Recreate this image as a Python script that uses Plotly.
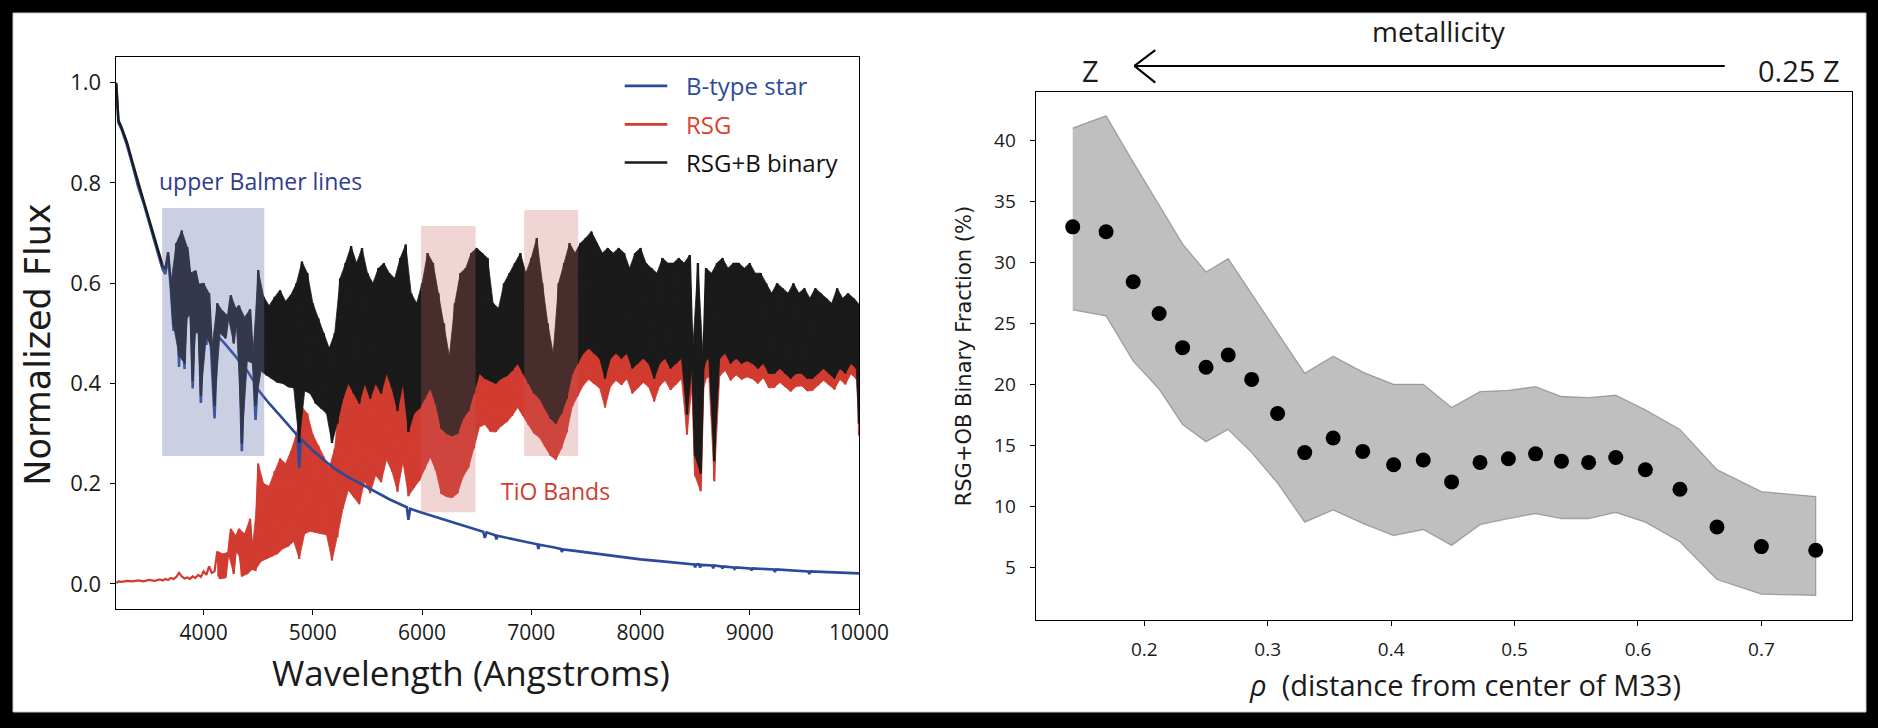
import plotly.graph_objects as go

# ---------------- Left panel: spectra ----------------
wl_spec = [3200, 3210, 3220, 3250, 3300, 3350, 3400, 3450, 3500, 3550, 3600, 3625,
           3650, 3675,
           3700, 3725, 3750, 3775, 3800, 3825, 3850, 3875, 3900, 3925, 3950, 3975,
           4000, 4025, 4050, 4075, 4100, 4125, 4150, 4175, 4200, 4225, 4250, 4275,
           4300, 4325, 4350, 4375, 4400, 4425, 4450, 4475, 4500, 4525, 4550, 4575,
           4600, 4625, 4650, 4675, 4700, 4725, 4750, 4775, 4800, 4825, 4850, 4875,
           4900, 4925, 4950, 4975, 5000, 5025, 5050, 5075, 5100, 5125, 5150, 5175,
           5200, 5225, 5250, 5275, 5300, 5325, 5350, 5375, 5400, 5425, 5450, 5475,
           5500, 5525, 5550, 5575, 5600, 5625, 5650, 5675, 5700, 5725, 5750, 5775,
           5800, 5825, 5850, 5875, 5900, 5925, 5950, 5975, 6000, 6025, 6050, 6075,
           6100, 6125, 6150, 6175, 6200, 6225, 6250, 6275, 6300, 6325, 6350, 6375,
           6400, 6425, 6450, 6475, 6500, 6525, 6550, 6575, 6600, 6625, 6650, 6675,
           6700, 6725, 6750, 6775, 6800, 6825, 6850, 6875, 6900, 6925, 6950, 6975,
           7000, 7025, 7050, 7075, 7100, 7125, 7150, 7175, 7200, 7225, 7250, 7275,
           7300, 7325, 7350, 7375, 7400, 7425, 7450, 7475, 7500, 7525, 7550, 7575,
           7600, 7625, 7650, 7675, 7700, 7725, 7750, 7775, 7800, 7825, 7850, 7875,
           7900, 7925, 7950, 7975, 8000, 8025, 8050, 8075, 8100, 8125, 8150, 8175,
           8200, 8225, 8250, 8275, 8300, 8325, 8350, 8375, 8400, 8425, 8450, 8475,
           8500, 8525, 8550, 8575, 8600, 8625, 8650, 8675, 8700, 8725, 8750, 8775,
           8800, 8825, 8850, 8875, 8900, 8925, 8950, 8975, 9000, 9025, 9050, 9075,
           9100, 9125, 9150, 9175, 9200, 9225, 9250, 9275, 9300, 9325, 9350, 9375,
           9400, 9425, 9450, 9475, 9500, 9525, 9550, 9575, 9600, 9625, 9650, 9675,
           9700, 9725, 9750, 9775, 9800, 9825, 9850, 9875, 9900, 9925, 9950, 9975,
           9990, 10000]

flux_binary = [1.000, 0.965, 0.925, 0.910, 0.880, 0.840, 0.800, 0.765, 0.728, 0.690, 0.655, 0.635,
               0.628, 0.662,
               0.600, 0.515, 0.680, 0.455, 0.705, 0.440, 0.672, 0.620, 0.405, 0.625, 0.598, 0.375,
               0.600, 0.495, 0.580, 0.470, 0.355, 0.560, 0.500, 0.544, 0.490, 0.535, 0.576, 0.480,
               0.547, 0.555, 0.280, 0.532, 0.445, 0.548, 0.440, 0.355, 0.626, 0.425, 0.573, 0.416,
               0.555, 0.409, 0.573, 0.402, 0.586, 0.400, 0.564, 0.393, 0.577, 0.391, 0.600, 0.282,
               0.643, 0.385, 0.620, 0.380, 0.560, 0.360, 0.530, 0.350, 0.500, 0.340, 0.470, 0.281,
               0.500, 0.320, 0.610, 0.370, 0.640, 0.400, 0.674, 0.380, 0.640, 0.360, 0.670, 0.400,
               0.620, 0.370, 0.600, 0.400, 0.630, 0.380, 0.640, 0.420, 0.620, 0.390, 0.610, 0.345,
               0.650, 0.400, 0.677, 0.303, 0.580, 0.340, 0.560, 0.350, 0.600, 0.370, 0.660, 0.390,
               0.640, 0.360, 0.580, 0.310, 0.520, 0.300, 0.454, 0.295, 0.560, 0.300, 0.620, 0.330,
               0.630, 0.345, 0.660, 0.380, 0.670, 0.420, 0.660, 0.410, 0.650, 0.405, 0.560, 0.400,
               0.550, 0.410, 0.600, 0.415, 0.620, 0.425, 0.640, 0.440, 0.660, 0.420, 0.620, 0.400,
               0.650, 0.380, 0.690, 0.370, 0.600, 0.350, 0.520, 0.330, 0.460, 0.320, 0.600, 0.340,
               0.640, 0.370, 0.680, 0.420, 0.660, 0.440, 0.680, 0.460, 0.690, 0.470, 0.703, 0.460,
               0.680, 0.450, 0.660, 0.410, 0.670, 0.450, 0.660, 0.460, 0.670, 0.450, 0.660, 0.460,
               0.630, 0.430, 0.660, 0.440, 0.670, 0.450, 0.640, 0.440, 0.630, 0.410, 0.620, 0.440,
               0.650, 0.450, 0.640, 0.430, 0.640, 0.440, 0.650, 0.450, 0.640, 0.338, 0.656, 0.440,
               0.255, 0.640, 0.220, 0.440, 0.630, 0.450, 0.620, 0.245, 0.640, 0.450, 0.650, 0.460,
               0.630, 0.440, 0.640, 0.450, 0.640, 0.440, 0.630, 0.445, 0.640, 0.440, 0.620, 0.430,
               0.620, 0.440, 0.600, 0.420, 0.580, 0.420, 0.600, 0.430, 0.590, 0.420, 0.580, 0.410,
               0.600, 0.420, 0.580, 0.420, 0.590, 0.410, 0.570, 0.410, 0.590, 0.420, 0.580, 0.430,
               0.570, 0.420, 0.560, 0.410, 0.590, 0.430, 0.570, 0.420, 0.580, 0.440, 0.570, 0.430,
               0.560, 0.320]

flux_rsg = [0.004, 0.003, 0.005, 0.004, 0.006, 0.005, 0.007, 0.005, 0.008, 0.006, 0.009, 0.007,
            0.010, 0.008,
            0.012, 0.010, 0.014, 0.022, 0.015, 0.011, 0.013, 0.010, 0.015, 0.012, 0.018, 0.014,
            0.025, 0.018, 0.035, 0.022, 0.025, 0.065, 0.010, 0.060, 0.012, 0.063, 0.110, 0.020,
            0.095, 0.110, 0.015, 0.100, 0.020, 0.130, 0.030, 0.028, 0.240, 0.045, 0.200, 0.050,
            0.195, 0.055, 0.225, 0.060, 0.250, 0.070, 0.240, 0.075, 0.265, 0.085, 0.300, 0.050,
            0.353, 0.100, 0.340, 0.105, 0.298, 0.102, 0.276, 0.100, 0.254, 0.098, 0.232, 0.047,
            0.270, 0.093, 0.387, 0.150, 0.424, 0.187, 0.464, 0.173, 0.436, 0.159, 0.472, 0.205,
            0.428, 0.181, 0.414, 0.217, 0.450, 0.203, 0.466, 0.248, 0.451, 0.224, 0.446, 0.184,
            0.491, 0.243, 0.523, 0.175, 0.430, 0.192, 0.414, 0.206, 0.458, 0.230, 0.522, 0.253,
            0.505, 0.227, 0.448, 0.180, 0.392, 0.174, 0.329, 0.172, 0.439, 0.181, 0.502, 0.214,
            0.516, 0.232, 0.549, 0.270, 0.562, 0.313, 0.555, 0.318, 0.548, 0.304, 0.462, 0.303,
            0.454, 0.315, 0.507, 0.323, 0.529, 0.335, 0.551, 0.352, 0.574, 0.335, 0.536, 0.317,
            0.569, 0.300, 0.611, 0.292, 0.523, 0.274, 0.445, 0.256, 0.387, 0.248, 0.529, 0.270,
            0.571, 0.302, 0.613, 0.354, 0.594, 0.375, 0.615, 0.396, 0.627, 0.408, 0.641, 0.399,
            0.620, 0.391, 0.601, 0.352, 0.613, 0.394, 0.605, 0.406, 0.616, 0.397, 0.608, 0.409,
            0.579, 0.380, 0.610, 0.391, 0.621, 0.402, 0.592, 0.393, 0.583, 0.364, 0.575, 0.395,
            0.605, 0.406, 0.597, 0.387, 0.598, 0.398, 0.608, 0.409, 0.599, 0.298, 0.616, 0.401,
            0.215, 0.602, 0.185, 0.403, 0.593, 0.414, 0.584, 0.205, 0.605, 0.415, 0.616, 0.426,
            0.596, 0.406, 0.607, 0.417, 0.608, 0.408, 0.598, 0.413, 0.609, 0.409, 0.590, 0.400,
            0.590, 0.411, 0.571, 0.391, 0.551, 0.392, 0.572, 0.402, 0.563, 0.393, 0.553, 0.384,
            0.573, 0.394, 0.554, 0.395, 0.565, 0.385, 0.545, 0.386, 0.565, 0.396, 0.556, 0.406,
            0.547, 0.397, 0.537, 0.388, 0.568, 0.408, 0.548, 0.398, 0.559, 0.419, 0.549, 0.409,
            0.539, 0.296]

wl_bstar = [3200, 3210, 3220, 3250, 3300, 3350, 3400, 3450, 3500, 3550, 3600, 3625,
            3650, 3675, 3700, 3725, 3750, 3775, 3800, 3825, 3850, 3875, 3900, 3925,
            3950, 3975, 4000, 4025, 4050, 4075, 4100, 4125, 4150, 4200, 4250, 4300,
            4330, 4350, 4370, 4400, 4460, 4475, 4490, 4550, 4600, 4700, 4800, 4860,
            4875, 4890, 4950, 5000, 5100, 5200, 5300, 5400, 5500, 5600, 5700, 5800,
            5860, 5875, 5890, 6000, 6100, 6200, 6300, 6400, 6500, 6560, 6575, 6590,
            6670, 6680, 6690, 6800, 6900, 7000, 7055, 7065, 7075, 7200, 7270, 7280,
            7290, 7400, 7600, 7800, 8000, 8200, 8400, 8490, 8500, 8510, 8535, 8545,
            8555, 8655, 8665, 8675, 8740, 8750, 8760, 8850, 8860, 8870, 9005, 9015,
            9025, 9220, 9230, 9240, 9535, 9545, 9555, 9800, 10000]

flux_bstar = [0.996, 0.962, 0.920, 0.906, 0.874, 0.835, 0.793, 0.760, 0.720, 0.684, 0.646, 0.628,
              0.618, 0.654, 0.588, 0.505, 0.666, 0.433, 0.690, 0.429, 0.659, 0.610, 0.390, 0.613,
              0.580, 0.361, 0.575, 0.477, 0.545, 0.448, 0.330, 0.495, 0.490, 0.478, 0.466, 0.452,
              0.443, 0.265, 0.433, 0.425, 0.404, 0.327, 0.390, 0.373, 0.360, 0.336, 0.312, 0.296,
              0.232, 0.289, 0.277, 0.266, 0.247, 0.230, 0.216, 0.204, 0.192, 0.180, 0.169, 0.159,
              0.153, 0.128, 0.150, 0.142, 0.135, 0.128, 0.121, 0.114, 0.108, 0.104, 0.092, 0.103,
              0.097, 0.089, 0.096, 0.091, 0.086, 0.081, 0.079, 0.070, 0.078, 0.073, 0.070, 0.064,
              0.069, 0.066, 0.060, 0.054, 0.049, 0.045, 0.041, 0.039, 0.033, 0.039, 0.039, 0.033,
              0.038, 0.037, 0.031, 0.037, 0.035, 0.031, 0.035, 0.033, 0.030, 0.033, 0.031, 0.027,
              0.031, 0.029, 0.024, 0.029, 0.025, 0.020, 0.025, 0.023, 0.021]

balmer_box_wl = [3620, 4555]
balmer_box_flux = [0.255, 0.750]
tio_box1_wl = [5990, 6490]
tio_box1_flux = [0.143, 0.714]
tio_box2_wl = [6935, 7429]
tio_box2_flux = [0.255, 0.746]

flux_ticks = [0.0, 0.2, 0.4, 0.6, 0.8, 1.0]
wl_ticks = [4000, 5000, 6000, 7000, 8000, 9000, 10000]
wl_ticklabels = ["4000", "5000", "6000", "7000", "8000", "9000", "10000"]

legend_names = ["B-type star", "RSG", "RSG+B binary"]

# ---------------- Right panel: binary fraction ----------------
rho = [0.142, 0.169, 0.191, 0.212, 0.231, 0.250, 0.268, 0.287, 0.308, 0.330, 0.353, 0.377, 0.402,
       0.426, 0.449, 0.472, 0.495, 0.517, 0.538, 0.560, 0.582, 0.606, 0.634, 0.664, 0.700, 0.744]
binary_frac = [32.9, 32.5, 28.4, 25.8, 23.0, 21.4, 22.4, 20.4, 17.6, 14.4, 15.6, 14.5, 13.4,
               13.8, 12.0, 13.6, 13.9, 14.3, 13.7, 13.6, 14.0, 13.0, 11.4, 8.3, 6.7, 6.4]
frac_upper = [41.0, 42.0, 38.2, 34.7, 31.5, 29.2, 30.3, 27.4, 24.2, 20.9, 22.3, 21.0, 20.0,
              20.0, 18.1, 19.4, 19.5, 19.8, 19.0, 18.9, 19.1, 17.9, 16.3, 13.0, 11.2, 10.8]
frac_lower = [26.1, 25.6, 21.9, 19.6, 16.7, 15.3, 16.3, 14.4, 11.9, 8.7, 9.7, 8.6, 7.6,
              8.1, 6.8, 8.5, 9.0, 9.4, 9.0, 9.0, 9.5, 8.7, 7.1, 4.0, 2.8, 2.7]
rho_ticks = [0.2, 0.3, 0.4, 0.5, 0.6, 0.7]
frac_ticks = [5, 10, 15, 20, 25, 30, 35, 40]

assert len(wl_spec) == len(flux_binary) == len(flux_rsg)
assert len(wl_bstar) == len(flux_bstar)

BLUE = "#2c4a9a"
RED = "#d13b30"
BLACK = "#1a1a1a"
TXT_BLUE = "#2e3d8c"
SANS = "Open Sans"
W, H = 1878, 728


def dense_band(wl, flux, start_wl):
    """Polygon joining the local peaks (top) and troughs (bottom) of a noisy
    spectrum, so the dense noise renders as a solid band like the original."""
    idx = [i for i, w in enumerate(wl) if w >= start_wl]
    top, bot = [], []
    for i in idx:
        a = flux[i - 1]
        b = flux[i + 1] if i + 1 < len(flux) else flux[i]
        mid = 0.5 * (a + b)
        top.append(max(flux[i], mid))
        bot.append(min(flux[i], mid))
    xs = [wl[i] for i in idx]
    return xs + xs[::-1], top + bot[::-1]


fig = go.Figure()

rx, ry = dense_band(wl_spec, flux_rsg, 4125)
fig.add_trace(go.Scatter(x=rx, y=ry, mode="lines", fill="toself", fillcolor=RED,
                         line=dict(color=RED, width=0.8), showlegend=False, hoverinfo="skip",
                         xaxis="x", yaxis="y"))
fig.add_trace(go.Scatter(x=wl_spec, y=flux_rsg, mode="lines", line=dict(color=RED, width=2.2),
                         name=legend_names[1], showlegend=False, xaxis="x", yaxis="y"))
fig.add_trace(go.Scatter(x=wl_bstar, y=flux_bstar, mode="lines", line=dict(color=BLUE, width=2.6),
                         name=legend_names[0], showlegend=False, xaxis="x", yaxis="y"))
bx, by = dense_band(wl_spec, flux_binary, 3700)
fig.add_trace(go.Scatter(x=bx, y=by, mode="lines", fill="toself", fillcolor=BLACK,
                         line=dict(color=BLACK, width=0.8), showlegend=False, hoverinfo="skip",
                         xaxis="x", yaxis="y"))
fig.add_trace(go.Scatter(x=wl_spec, y=flux_binary, mode="lines", line=dict(color=BLACK, width=2.4),
                         name=legend_names[2], showlegend=False, xaxis="x", yaxis="y"))

fig.add_trace(go.Scatter(x=rho + rho[::-1], y=frac_upper + frac_lower[::-1], mode="lines",
                         fill="toself", fillcolor="rgba(128,128,128,0.5)",
                         line=dict(color="rgba(110,110,110,0.55)", width=1.3),
                         showlegend=False, hoverinfo="skip", xaxis="x2", yaxis="y2"))
fig.add_trace(go.Scatter(x=rho, y=binary_frac, mode="markers",
                         marker=dict(color="black", size=15), showlegend=False,
                         xaxis="x2", yaxis="y2"))

axis_common = dict(showline=True, linecolor="black", linewidth=1.3, mirror=True,
                   ticks="outside", ticklen=5, tickwidth=1.3, tickcolor="black",
                   showgrid=False, zeroline=False, automargin=False)

fig.update_layout(
    width=W, height=H, autosize=False,
    margin=dict(l=0, r=0, t=0, b=0, pad=0, autoexpand=False),
    paper_bgcolor="black", plot_bgcolor="white",
    showlegend=False,
    xaxis=dict(domain=[115.7 / W, 859.0 / W], range=[3195, 10000], tickvals=wl_ticks,
               ticktext=wl_ticklabels,
               tickfont=dict(family=SANS, size=21, color="#1a1a1a"), ticklabelstandoff=0,
               anchor="y", **axis_common),
    yaxis=dict(domain=[1 - 609.0 / H, 1 - 56.6 / H], range=[-0.05, 1.052], tickvals=flux_ticks,
               tickformat=".1f", tickfont=dict(family=SANS, size=22, color="#1a1a1a"),
               ticklabelstandoff=4, anchor="x", **axis_common),
    xaxis2=dict(domain=[1035.7 / W, 1851.5 / W], range=[0.112, 0.773], tickvals=rho_ticks,
                tickformat=".1f", tickfont=dict(family=SANS, size=19, color="#1a1a1a"),
                ticklabelstandoff=7, anchor="y2", **axis_common),
    yaxis2=dict(domain=[1 - 619.8 / H, 1 - 91.9 / H], range=[0.7, 43.96], tickvals=frac_ticks,
                tickfont=dict(family=SANS, size=19, color="#1a1a1a"), ticklabelstandoff=10,
                anchor="x2", **axis_common),
)

legend_colors = [BLUE, RED, BLACK]
legend_text_colors = ["#2e4a9c", "#d9442f", "#111111"]
legend_rows_y = [85.9, 124.4, 162.5]

shapes = [
    dict(type="rect", xref="paper", yref="paper", x0=13 / W, x1=1866 / W, y0=1 - 712 / H,
         y1=1 - 13 / H, fillcolor="white", line=dict(color="#c8c8c8", width=1), layer="below"),
    dict(type="rect", xref="x", yref="y", x0=balmer_box_wl[0], x1=balmer_box_wl[1],
         y0=balmer_box_flux[0], y1=balmer_box_flux[1], fillcolor="rgba(100,115,172,0.34)",
         line=dict(width=0), layer="above"),
    dict(type="rect", xref="x", yref="y", x0=tio_box1_wl[0], x1=tio_box1_wl[1],
         y0=tio_box1_flux[0], y1=tio_box1_flux[1], fillcolor="rgba(203,95,95,0.27)",
         line=dict(width=0), layer="above"),
    dict(type="rect", xref="x", yref="y", x0=tio_box2_wl[0], x1=tio_box2_wl[1],
         y0=tio_box2_flux[0], y1=tio_box2_flux[1], fillcolor="rgba(203,95,95,0.27)",
         line=dict(width=0), layer="above"),
    # metallicity arrow
    dict(type="line", xref="paper", yref="paper", x0=1724.7 / W, x1=1134.4 / W,
         y0=1 - 65.9 / H, y1=1 - 65.9 / H, line=dict(color="black", width=2)),
    dict(type="line", xref="paper", yref="paper", x0=1134.4 / W, x1=1155.3 / W,
         y0=1 - 65.9 / H, y1=1 - 50.1 / H, line=dict(color="black", width=2)),
    dict(type="line", xref="paper", yref="paper", x0=1134.4 / W, x1=1155.3 / W,
         y0=1 - 65.9 / H, y1=1 - 82.6 / H, line=dict(color="black", width=2)),
]
for col, yy in zip(legend_colors, legend_rows_y):
    shapes.append(dict(type="line", xref="paper", yref="paper", x0=624.7 / W, x1=667.3 / W,
                       y0=1 - yy / H, y1=1 - yy / H, line=dict(color=col, width=2.6)))
fig.update_layout(shapes=shapes)

ann = [
    dict(text="upper Balmer lines", x=3572, y=0.803, xref="x", yref="y", xanchor="left",
         yanchor="middle", showarrow=False, font=dict(family=SANS, size=23, color=TXT_BLUE)),
    dict(text="TiO Bands", x=6704, y=0.185, xref="x", yref="y", xanchor="left",
         yanchor="middle", showarrow=False, font=dict(family=SANS, size=23, color=RED)),
    dict(text="Wavelength (Angstroms)", x=470.6 / W, y=1 - 672 / H, xref="paper", yref="paper",
         xanchor="center", yanchor="middle", showarrow=False,
         font=dict(family=SANS, size=35, color="#1a1a1a")),
    dict(text="Normalized Flux", x=38 / W, y=1 - 344.7 / H, xref="paper", yref="paper",
         xanchor="center", yanchor="middle", showarrow=False, textangle=-90,
         font=dict(family="DejaVu Sans", size=35, color="#1a1a1a")),
    dict(text="<i>ρ</i>&nbsp;&nbsp;(distance from center of M33)", x=1465 / W, y=1 - 684 / H,
         xref="paper", yref="paper", xanchor="center", yanchor="middle", showarrow=False,
         font=dict(family=SANS, size=29, color="#1a1a1a")),
    dict(text="RSG+OB Binary Fraction (%)", x=964 / W, y=1 - 356.3 / H, xref="paper",
         yref="paper", xanchor="center", yanchor="middle", showarrow=False, textangle=-90,
         font=dict(family="DejaVu Sans", size=21, color="#1a1a1a")),
    dict(text="metallicity", x=1439 / W, y=1 - 31 / H, xref="paper", yref="paper",
         xanchor="center", yanchor="middle", showarrow=False,
         font=dict(family=SANS, size=28, color="#1a1a1a")),
    dict(text="Z", x=1090.7 / W, y=1 - 70.6 / H, xref="paper", yref="paper",
         xanchor="center", yanchor="middle", showarrow=False,
         font=dict(family=SANS, size=29, color="#1a1a1a")),
    dict(text="0.25 Z", x=1842 / W, y=1 - 70.6 / H, xref="paper", yref="paper",
         xanchor="right", yanchor="middle", showarrow=False,
         font=dict(family=SANS, size=29, color="#1a1a1a")),
]
for name, tcol, yy in zip(legend_names, legend_text_colors, legend_rows_y):
    ann.append(dict(text=name, x=684 / W, y=1 - yy / H, xref="paper", yref="paper",
                    xanchor="left", yanchor="middle", showarrow=False,
                    font=dict(family=SANS, size=24, color=tcol)))
fig.update_layout(annotations=ann)

page_fix = (
    "document.documentElement.style.margin='0';"
    "document.documentElement.style.padding='0';"
    "document.documentElement.style.overflow='hidden';"
    "document.body.style.margin='0';"
    "document.body.style.padding='0';"
    "document.body.style.overflow='hidden';"
    "document.body.style.background='black';"
)
fig.write_html("out.html", config={"displayModeBar": False, "responsive": False},
               post_script=page_fix)
